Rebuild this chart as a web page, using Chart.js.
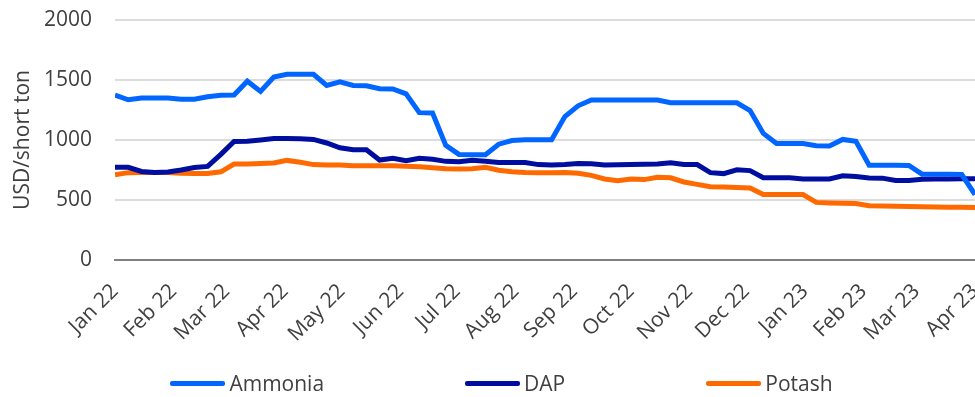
<!DOCTYPE html>
<html>
<head>
<meta charset="utf-8">
<script src="https://cdn.jsdelivr.net/npm/chart.js@4.4.1/dist/chart.umd.min.js"></script>
<style>
  html, body { margin: 0; padding: 0; background: #fff; overflow: hidden; }
  #wrap { position: relative; width: 1003px; height: 397px; }
  #legend {
    position: absolute; left: 0; top: 369px; width: 1003px;
    display: flex; justify-content: center; gap: 141px;
    font: 21px 'Open Sans'; color: #404040; line-height: 28px;
  }
  #legend .item { display: flex; align-items: center; }
  #legend .swatch { width: 55px; height: 5px; border-radius: 2px; margin-right: 4px; }
</style>
</head>
<body>
<div id="wrap">
  <canvas id="fert_chart" width="1003" height="397"></canvas>
  <div id="legend"></div>
</div>
<script>
// weekly prices, first week = 1 Jan 2022
const first_week = new Date(2022, 0, 1)

const month_labels = ['Jan 22', 'Feb 22', 'Mar 22', 'Apr 22', 'May 22', 'Jun 22', 'Jul 22', 'Aug 22',
  'Sep 22', 'Oct 22', 'Nov 22', 'Dec 22', 'Jan 23', 'Feb 23', 'Mar 23', 'Apr 23']

const series_names = ['Ammonia', 'DAP', 'Potash']
const series_colors = ['#0066ff', '#000ea0', '#ff6a00']

const ammonia = [1375, 1335, 1350, 1350, 1350, 1340, 1340, 1360, 1372, 1375,
  1490, 1405, 1525, 1548, 1548, 1548, 1455, 1485, 1455, 1452,
  1428, 1425, 1385, 1228, 1225, 955, 880, 878, 878, 965,
  995, 1002, 1003, 1003, 1195, 1285, 1333, 1333, 1333, 1333,
  1333, 1333, 1310, 1310, 1310, 1310, 1310, 1310, 1245, 1055,
  970, 970, 970, 953, 950, 1005, 990, 790, 790, 790,
  788, 715, 715, 715, 712, 545]

const dap = [772, 772, 738, 730, 733, 750, 770, 780, 880, 988,
  990, 1000, 1012, 1012, 1010, 1005, 975, 935, 918, 918,
  833, 847, 828, 848, 840, 822, 818, 832, 822, 812,
  812, 812, 795, 792, 795, 805, 802, 792, 793, 795,
  797, 800, 810, 795, 795, 728, 720, 752, 745, 685,
  685, 685, 675, 675, 675, 702, 695, 684, 682, 663,
  663, 673, 675, 676, 677, 677]

const potash = [710, 728, 730, 730, 730, 722, 720, 720, 735, 800,
  800, 805, 808, 830, 815, 795, 792, 792, 785, 785,
  785, 785, 782, 778, 768, 760, 758, 760, 772, 748,
  735, 730, 728, 728, 730, 722, 705, 675, 660, 675,
  670, 690, 685, 650, 630, 610, 608, 605, 600, 545,
  545, 545, 545, 480, 475, 472, 470, 452, 450, 448,
  445, 444, 442, 440, 440, 438]

const y_ticks = [0, 500, 1000, 1500, 2000]

// days since first week, used as the x value
function day_of(date) {
  return Math.round((date - first_week) / 86400000)
}

const month_days = month_labels.map((m, i) => day_of(new Date(2022, i, 1)))

function to_points(values) {
  return values.map((v, i) => ({ x: i * 7, y: v }))
}

const all_series = [ammonia, dap, potash]

const datasets = all_series.map((vals, i) => ({
  label: series_names[i],
  data: to_points(vals),
  borderColor: series_colors[i],
  backgroundColor: series_colors[i],
  borderWidth: 5,
  pointRadius: 0,
  tension: 0
}))

const font = { family: 'Open Sans', size: 21 }

const chart_config = {
  type: 'line',
  data: { datasets: datasets },
  options: {
    responsive: false,
    animation: false,
    layout: { padding: { top: 20, right: 28, bottom: 40, left: 0 } },
    plugins: { legend: { display: false }, tooltip: { enabled: false } },
    scales: {
      x: {
        type: 'linear',
        min: month_days[0],
        max: month_days[month_days.length - 1],
        grid: { display: false },
        border: { color: '#808080', width: 2 },
        afterBuildTicks: (scale) => {
          scale.ticks = month_days.map(d => ({ value: d }))
        },
        afterFit: (scale) => {
          scale.height = 97
          scale.paddingLeft = 0
          scale.paddingRight = 0
        },
        ticks: {
          autoSkip: false,
          minRotation: 45,
          maxRotation: 45,
          padding: 11,
          color: '#404040',
          font: font,
          callback: (value, index) => month_labels[index]
        }
      },
      y: {
        min: 0,
        max: 2000,
        afterBuildTicks: (scale) => {
          scale.ticks = y_ticks.map(v => ({ value: v }))
        },
        afterFit: (scale) => {
          scale.width = 115
          scale.paddingTop = 0
          scale.paddingBottom = 0
        },
        grid: { color: '#dcdcdc', lineWidth: 2, drawTicks: false },
        border: { display: false },
        ticks: {
          padding: 23,
          color: '#404040',
          font: font,
          callback: (value) => String(value)  // plain numbers, no thousands comma
        },
        title: {
          display: true,
          text: 'USD/short ton',
          color: '#404040',
          font: font,
          padding: { top: 10, bottom: 0 }
        }
      }
    }
  }
}

const fert_chart = new Chart(document.getElementById('fert_chart'), chart_config)

// legend row under the chart
const legend_el = document.getElementById('legend')
series_names.forEach((name, i) => {
  const item = document.createElement('div')
  item.className = 'item'
  item.innerHTML = '<span class="swatch" style="background:' + series_colors[i] + '"></span><span>' + name + '</span>'
  legend_el.appendChild(item)
})
</script>
</body>
</html>
